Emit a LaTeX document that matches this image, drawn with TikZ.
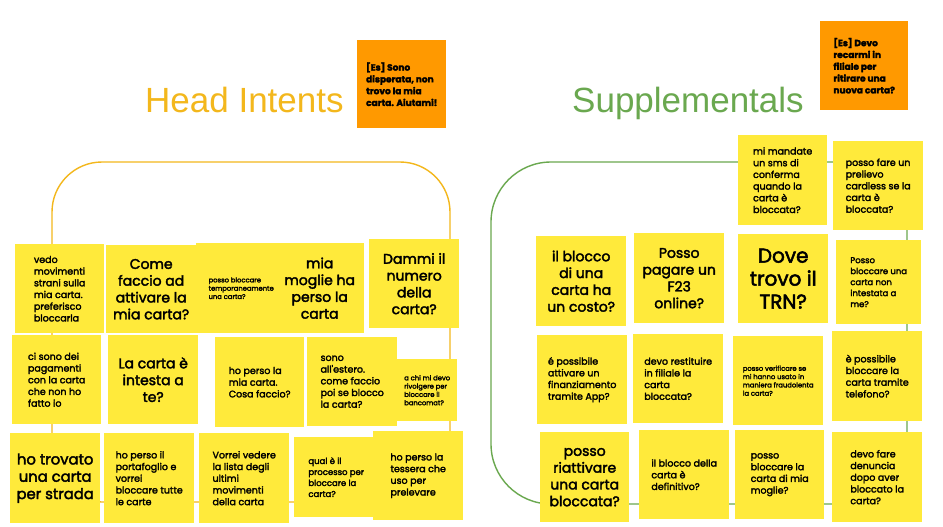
\documentclass[tikz,border=0pt]{standalone}
\usepackage{fontspec}
\setmainfont{Liberation Sans}
\newfontfamily\notefont[FakeBold=2.5]{Poppins}
\definecolor{gold}{RGB}{243,183,28}
\definecolor{leaf}{RGB}{106,168,79}
\definecolor{stickyyellow}{RGB}{255,234,59}
\definecolor{stickyorange}{RGB}{255,153,0}
\tikzset{
  note/.style={fill=stickyyellow, anchor=north west, inner sep=0pt,
    minimum width=90pt, minimum height=89pt, align=left,
    font=\notefont\fontsize{9.5}{11.7}\selectfont},
  tinytxt/.style={font=\notefont\fontsize{6.8}{8.3}\selectfont},
  smalltxt/.style={font=\notefont\fontsize{8.5}{11}\selectfont},
  bigtxt/.style={align=center, font=\notefont\fontsize{14}{16.8}\selectfont},
  hugetxt/.style={align=center, font=\notefont\fontsize{20}{23}\selectfont},
  hint/.style={note, fill=stickyorange,
    font=\notefont\bfseries\fontsize{9}{11.8}\selectfont},
  title/.style={anchor=base west, inner sep=0pt,
    font=\fontsize{35}{40}\selectfont}
}
\begin{document}
\begin{tikzpicture}[x=1pt,y=-1pt]
  \fill[white] (0,0) rectangle (943,527);
  \useasboundingbox (0,0) rectangle (943,527);
  % frames
  \draw[gold, line width=1.4pt, rounded corners=50pt] (52,162) rectangle (450,502);
  \draw[leaf, line width=1.4pt, rounded corners=60pt] (491,162) rectangle (907,504);
  % titles
  \path
    (145,113) node[title, text=gold] (headtitle) {Head Intents}
    (572,112) node[title, text=leaf] (supptitle) {Supplementals};
  \path
    (357,40) node[hint, minimum width=89pt, minimum height=88pt] (ex1)
      {[Es] Sono\\disperata, non\\trovo la mia\\carta. Aiutami!}
    (820,21) node[hint, minimum width=88pt] (ex2)
      {[Es] Devo\\recarmi in\\filiale per\\ritirare una\\nuova carta?};
  % head intents
  \path
    (15,244) node[note, minimum width=89pt] (h1)
      {vedo\\movimenti\\strani sulla\\mia carta.\\preferisco\\bloccarla}
    (106,245) node[note, bigtxt, minimum height=88pt] (h2)
      {Come\\faccio ad\\attivare la\\mia carta?}
    (196,243) node[note, tinytxt, minimum height=90pt] (h3)
      {posso bloccare\\temporaneamente\\una carta?}
    (275,243) node[note, bigtxt, minimum width=89pt, minimum height=90pt] (h4)
      {mia\\moglie ha\\perso la\\carta}
    (369,239) node[note, bigtxt] (h5)
      {Dammi il\\numero\\della\\carta?}
    (12,335) node[note, minimum width=89pt] (h6)
      {ci sono dei\\pagamenti\\con la carta\\che non ho\\fatto io}
    (108,335) node[note, bigtxt] (h7)
      {La carta è\\intesta a\\te?}
    (215,337) node[note, minimum width=89pt, minimum height=90pt] (h8)
      {ho perso la\\mia carta.\\Cosa faccio?}
    (307,337) node[note] (h9)
      {sono\\all'estero.\\come faccio\\poi se blocco\\la carta?}
    (397,359) node[note, tinytxt, minimum width=60pt, minimum height=62pt] (h10)
      {a chi mi devo\\rivolgere per\\bloccare il\\bancomat?}
    (10,433) node[note, bigtxt, minimum height=90pt,
        font=\notefont\fontsize{14.8}{17.3}\selectfont] (h11)
      {ho trovato\\una carta\\per strada}
    (104,433) node[note, minimum height=90pt] (h12)
      {ho perso il\\portafoglio e\\vorrei\\bloccare tutte\\le carte}
    (199,433) node[note, minimum height=90pt] (h13)
      {Vorrei vedere\\la lista degli\\ultimi\\movimenti\\della carta}
    (294,437) node[note, smalltxt, minimum width=84pt, minimum height=80pt] (h14)
      {qual è il\\processo per\\bloccare la\\carta?}
    (373,431) node[note] (h15)
      {ho perso la\\tessera che\\uso per\\prelevare};
  % supplementals
  \path
    (738,135) node[note, minimum width=89pt, minimum height=90pt] (s1)
      {mi mandate\\un sms di\\conferma\\quando la\\carta è\\bloccata?}
    (833,141) node[note] (s2)
      {posso fare un\\prelievo\\cardless se la\\carta è\\bloccata?}
    (536,236) node[note, bigtxt, minimum height=90pt] (s3)
      {il blocco\\di una\\carta ha\\un costo?}
    (634,233) node[note, bigtxt, minimum height=90pt] (s4)
      {Posso\\pagare un\\F23\\online?}
    (738,234) node[note, hugetxt] (s5)
      {Dove\\trovo il\\TRN?}
    (836,240) node[note, smalltxt, minimum width=85pt, minimum height=84pt] (s6)
      {Posso\\bloccare una\\carta non\\intestata a\\me?}
    (537,335) node[note] (s7)
      {é possibile\\attivare un\\finanziamento\\tramite App?}
    (633,334) node[note] (s8)
      {devo restituire\\in filiale la\\carta\\bloccata?}
    (733,336) node[note, tinytxt] (s9)
      {posso verificare se\\mi hanno usato in\\maniera fraudolenta\\la carta?}
    (832,331) node[note, minimum height=90pt] (s10)
      {è possibile\\bloccare la\\carta tramite\\telefono?}
    (540,432) node[note, bigtxt, minimum width=89pt, minimum height=90pt] (s11)
      {posso\\riattivare\\una carta\\bloccata?}
    (639,430) node[note] (s12)
      {il blocco della\\carta è\\definitivo?}
    (735,430) node[note, minimum width=89pt] (s13)
      {posso\\bloccare la\\carta di mia\\moglie?}
    (832,432) node[note, minimum height=90pt] (s14)
      {devo fare\\denuncia\\dopo aver\\bloccato la\\carta?};
\end{tikzpicture}
\end{document}
